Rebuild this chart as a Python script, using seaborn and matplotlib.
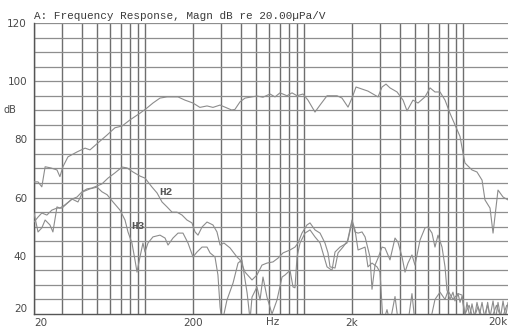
import numpy as np
import pandas as pd
import matplotlib
matplotlib.use("Agg")
import matplotlib.pyplot as plt
import seaborn as sns

# =========================================================
# Données (Hz, dB)
# =========================================================

freq_main = [20, 21.2, 22.4, 23.5, 25.5, 27.9, 29.1, 30.4, 32.7, 37.3, 41.9, 45.0,
             50.5, 57.6, 64.6, 71.6, 80.3, 92.8, 102.7, 112, 124, 137.3, 149.7,
             161, 178, 200, 221, 245, 267, 296, 327, 350, 367, 395, 425, 505,
             551, 610, 656, 705, 780, 839, 902, 984, 1057, 1170, 1259, 1393,
             1610, 1730, 1888, 2000, 2120, 2312, 2520, 2711, 2915, 3089, 3273,
             3467, 3840, 4188, 4437, 4837, 5200, 5756, 6190, 6652, 7155, 7693,
             8262, 8885, 9560, 9980, 10270, 10570, 11370, 12220, 13150, 13720,
             14760, 15420, 16570, 17820, 19150]
db_main = [65.4, 65.4, 63.7, 70.6, 70.2, 69.5, 67.2, 70.6, 74.0, 75.7, 77.0, 76.4,
           78.8, 81.5, 84.0, 84.6, 86.7, 89.0, 90.8, 92.5, 94.2, 94.6, 94.6,
           94.6, 93.5, 92.5, 91.0, 91.5, 91.0, 91.8, 90.8, 90.1, 90.3, 92.9,
           94.2, 94.9, 94.5, 95.6, 94.6, 96.0, 95.0, 96.0, 95.0, 95.6, 93.5,
           89.4, 91.8, 95.0, 95.0, 94.2, 91.1, 94.2, 98.0, 97.3, 96.6, 95.6,
           94.6, 98.0, 99.0, 97.7, 96.3, 93.5, 89.8, 93.5, 92.5, 94.6, 97.7,
           96.3, 96.3, 93.5, 89.0, 85.0, 81.0, 75.3, 71.9, 71.2, 69.5, 68.8,
           66.0, 59.2, 56.4, 47.8, 62.6, 60.2, 59.2]

freq_h2 = [20, 21.2, 22.4, 24.1, 25.9, 27.9, 30.0, 32.3, 34.7, 37.3, 40.1, 43.1,
           46.3, 49.8, 53.5, 58.4, 64.6, 71.6, 76.9, 83.9, 92.8, 99.8, 110.5,
           118.8, 127.7, 137.3, 147.6, 158.6, 170.6, 183.2, 197, 206, 215, 228,
           245, 267, 283, 296, 313, 342, 378, 395, 425, 470, 505, 543, 584,
           637, 685, 737, 815, 876, 915, 969, 1042, 1089, 1170, 1259, 1352,
           1413, 1455, 1564, 1634, 1755, 1888, 2000, 2089, 2183, 2312, 2416,
           2595, 2672, 2791, 2915, 3089, 3226, 3467, 3729, 3890, 4128, 4310,
           4500, 4766, 4980, 5356, 5756, 6015, 6370, 6652, 6950, 7365, 7693,
           7914, 8262, 8630, 8885, 9290, 9560, 9840, 10270, 10570, 11000,
           11370, 11800, 12220, 12700, 13150, 13720, 14260, 14760, 15420,
           16000, 16570, 17200, 17820, 18500, 19150]
db_h2 = [51.6, 53.3, 54.7, 54.0, 55.7, 56.4, 56.4, 58.0, 59.5, 60.2, 62.0, 63.0,
         63.3, 64.0, 64.7, 66.7, 68.5, 70.5, 70.2, 68.8, 67.4, 66.7, 63.6,
         61.6, 58.5, 56.8, 55.0, 55.0, 54.0, 52.3, 51.3, 48.2, 47.1, 49.9,
         51.6, 50.6, 48.2, 43.7, 44.4, 42.7, 39.6, 38.6, 34.4, 31.7, 33.4,
         36.8, 37.5, 37.9, 39.2, 41.0, 42.0, 43.0, 44.4, 47.8, 50.6, 51.3,
         48.9, 47.8, 44.4, 41.0, 36.2, 35.8, 41.0, 43.0, 45.4, 51.6, 48.2,
         47.8, 48.2, 46.5, 39.6, 28.5, 36.8, 39.2, 43.0, 42.7, 38.6, 46.1,
         44.7, 39.6, 34.4, 37.5, 40.3, 36.8, 45.4, 49.6, 49.9, 47.8, 43.0,
         47.1, 43.0, 36.2, 28.2, 25.0, 27.5, 24.5, 27.0, 24.0, 26.0, 19.0,
         24.0, 19.0, 23.5, 19.0, 24.0, 20.0, 24.0, 18.0, 24.0, 19.0, 24.5,
         18.0, 24.0, 19.0, 24.5, 19.0, 24.0]

freq_h3 = [20, 21.2, 22.4, 23.5, 25.2, 26.3, 27.9, 29.1, 31.3, 34.7, 37.8, 40.6,
           45.0, 49.8, 53.5, 57.6, 62.8, 69.5, 74.7, 78.0, 82.6, 86.3, 88.9,
           92.8, 96.9, 99.8, 104.2, 112, 124, 133.4, 139.3, 149.7, 161, 173,
           186, 200, 212, 228, 245, 256, 275, 287, 296, 305, 327, 357, 384,
           406, 438, 457, 470, 505, 528, 551, 584, 628, 675, 726, 758, 815,
           851, 876, 902, 942, 1013, 1089, 1170, 1259, 1393, 1497, 1564, 1681,
           1861, 2000, 2089, 2183, 2346, 2416, 2520, 2672, 2873, 3000, 3134,
           3320, 3467, 3729, 3890, 4500, 4766, 4980, 5756, 6190, 6652, 7155,
           7693, 8035, 8630, 9290, 9840, 10270, 10900, 11600, 12400, 13400,
           14200, 15000, 16200, 17500, 18800]
db_h3 = [54.7, 48.2, 49.6, 52.3, 50.6, 48.2, 56.8, 56.4, 57.5, 59.5, 58.5, 62.0,
         63.0, 63.6, 62.0, 61.0, 58.5, 55.7, 52.3, 48.2, 44.4, 38.6, 34.4,
         39.6, 44.4, 41.3, 44.4, 46.5, 47.1, 46.1, 43.7, 46.1, 47.8, 47.8,
         44.4, 39.6, 41.3, 43.0, 43.0, 41.0, 39.6, 33.4, 22.4, 17.0, 24.8,
         30.6, 37.5, 38.6, 27.2, 18.0, 25.8, 29.3, 24.8, 32.7, 25.8, 20.0,
         24.8, 32.7, 33.4, 35.0, 29.3, 29.0, 39.6, 44.4, 47.8, 48.9, 46.5,
         44.4, 36.2, 35.0, 41.3, 43.0, 44.4, 52.3, 48.9, 42.0, 42.7, 43.0,
         36.2, 37.5, 36.2, 34.4, 17.0, 21.5, 17.0, 26.0, 18.0, 17.0, 27.0,
         17.0, 17.0, 17.0, 25.0, 27.5, 25.0, 28.0, 25.0, 27.0, 26.5, 20.0,
         23.0, 18.0, 22.5, 18.0, 23.0, 18.0, 23.0, 18.0, 23.0]

x_ticks = [20, 200, 2000]
x_labels = ["20", "200", "2k"]
y_ticks = [20, 40, 60, 80, 100, 120]

# =========================================================
# Graphique
# =========================================================

sns.set_style("white")
plt.rcParams["font.family"] = ["DejaVu Sans"]

fig = plt.figure(figsize=(5.08, 3.27), dpi=100)
ax = fig.add_axes([34 / 508, 13 / 327, 477 / 508, 291 / 327])

curve_color = "#8c8c8c"
for f, d in [(freq_main, db_main), (freq_h2, db_h2), (freq_h3, db_h3)]:
    df = pd.DataFrame({"f": f, "db": d})
    sns.lineplot(data=df, x="f", y="db", ax=ax, color=curve_color,
                 linewidth=0.8, estimator=None, sort=False, zorder=3)

ax.set_xscale("log")
ax.set_xlim(20, 20000)
ax.set_ylim(20, 120)

# grille log : 20, 30, ... 90, 100, 200 ...
minor_x = [k * 10 ** e for e in range(1, 5) for k in range(1, 10)
           if 20 <= k * 10 ** e <= 20000]
for v in minor_x:
    ax.axvline(v, color="#6e6e6e", linewidth=1.0, zorder=1)
for v in range(25, 121, 5):
    ax.axhline(v, color="#8e8e8e", linewidth=0.9, zorder=1)

ax.set_xticks(x_ticks)
ax.set_xticklabels(x_labels)
ax.xaxis.set_minor_locator(matplotlib.ticker.NullLocator())
ax.set_yticks(y_ticks)
ax.set_yticklabels([str(v) for v in y_ticks])
ax.tick_params(length=0, labelsize=7.5, labelcolor="#4a4a4a", pad=5)
ax.tick_params(axis="x", pad=3)

xl = ax.get_xticklabels()
xl[0].set_ha("left")
yl = ax.get_yticklabels()
yl[0].set_va("bottom")

ax.set_xlabel("")
ax.set_ylabel("")
for s in ["top", "right"]:
    ax.spines[s].set_visible(False)
ax.spines["left"].set_color("#555555")
ax.spines["bottom"].set_color("#555555")
ax.spines["left"].set_linewidth(1.0)
ax.spines["bottom"].set_linewidth(1.0)

lab_y = -8 / 291  # sous l'axe, en fraction d'axe
ax.text(630, lab_y, "Hz", transform=ax.get_xaxis_transform(), fontsize=7.5,
        color="#4a4a4a", ha="center", va="center", clip_on=False)
ax.text(19000, lab_y, "20k", transform=ax.get_xaxis_transform(), fontsize=7.5,
        color="#4a4a4a", ha="right", va="center", clip_on=False)
ax.text(-0.063, 0.70, "dB", transform=ax.transAxes, fontsize=7,
        color="#4a4a4a", ha="left", va="center")
ax.text(0.0, 1.025, "A: Frequency Response, Magn dB re 20.00\u00b5Pa/V",
        transform=ax.transAxes, fontsize=7.9, family="Liberation Mono",
        color="#3a3a3a", ha="left", va="center")

ax.text(136, 62, "H2", fontsize=8, family="Liberation Mono",
        fontweight="bold", color="#555555", ha="center", va="center", zorder=4)
ax.text(90, 50.3, "H3", fontsize=8, family="Liberation Mono",
        fontweight="bold", color="#555555", ha="center", va="center", zorder=4)

fig.savefig("out.png", dpi=100)
